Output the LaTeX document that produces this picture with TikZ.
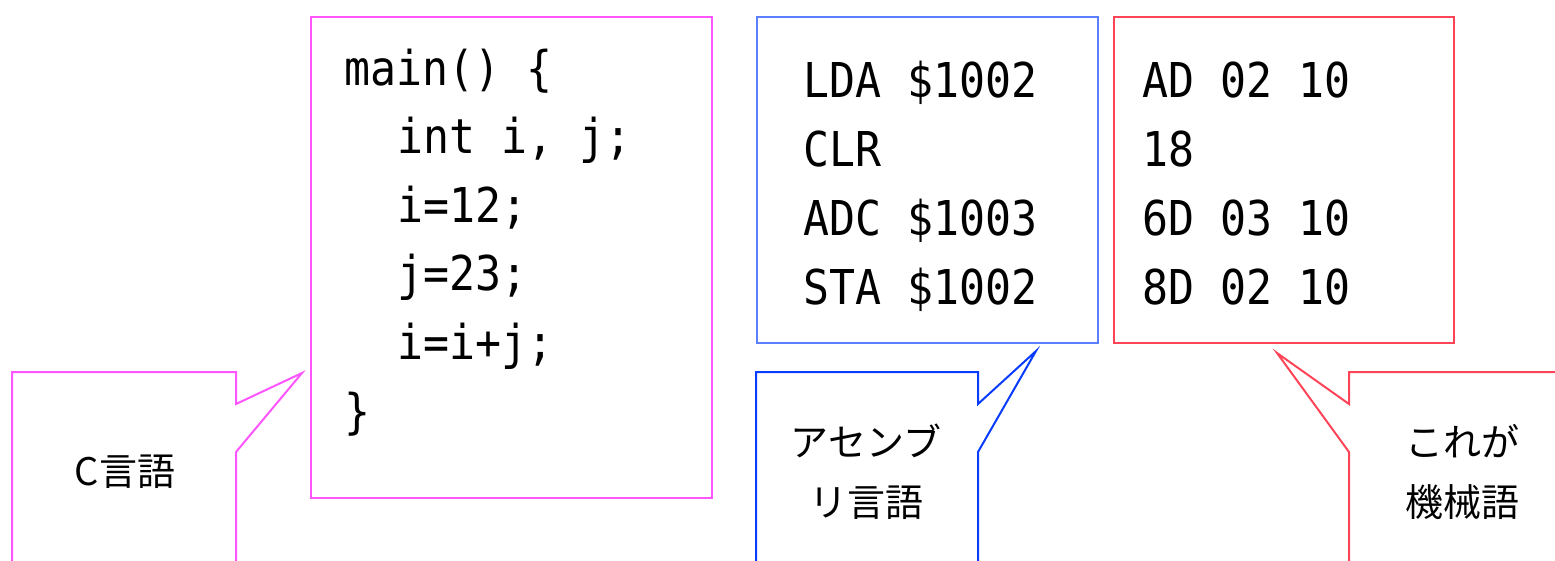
\documentclass[tikz,border=0pt]{standalone}
\usepackage{fontspec}
\newfontfamily\codefont[FakeStretch=0.9]{DejaVu Sans Mono}
\newfontfamily\jpfont{Noto Sans CJK JP}
\definecolor{cmag}{HTML}{FF55FF}
\definecolor{cblueL}{HTML}{5B80FF}
\definecolor{cblueD}{HTML}{0A3CFF}
\definecolor{cred}{HTML}{FF4458}
\tikzset{
  box/.style={draw, line width=2pt, anchor=north west, inner sep=0pt},
  code/.style={anchor=base west, inner sep=0pt, font=\codefont\fontsize{48}{58}\selectfont},
  lbl/.style={anchor=base, inner sep=0pt, font=\jpfont\fontsize{38}{46}\selectfont},
  callout/.style={line width=2pt, line join=miter}
}
\begin{document}
\begin{tikzpicture}[x=1pt,y=-1pt]
\useasboundingbox (0,0) rectangle (1555,560);
\clip (0,0) rectangle (1555,560);
% boxes
\node[box, draw=cmag, minimum width=401pt, minimum height=481pt] (cbox) at (310,16) {};
\node[box, draw=cblueL, minimum width=341pt, minimum height=326pt] (abox) at (756,16) {};
\node[box, draw=cred, minimum width=340pt, minimum height=326pt] (mbox) at (1113,16) {};
% C code
\node[code] (c1) at (344,85) {main() \{};
\node[code] (c2) at (397,153) {int i, j;};
\node[code] (c3) at (397,222) {i=12;};
\node[code] (c4) at (397,290) {j=23;};
\node[code] (c5) at (397,359) {i=i+j;};
\node[code] (c6) at (344,428) {\}};
% assembly
\node[code] (a1) at (803,97) {LDA \$1002};
\node[code] (a2) at (803,166) {CLR};
\node[code] (a3) at (803,235) {ADC \$1003};
\node[code] (a4) at (803,304) {STA \$1002};
% machine code
\node[code] (m1) at (1142,97) {AD 02 10};
\node[code] (m2) at (1142,166) {18};
\node[code] (m3) at (1142,235) {6D 03 10};
\node[code] (m4) at (1142,304) {8D 02 10};
% callout tips
\coordinate (tipC) at (302,373);
\coordinate (tipA) at (1036,351);
\coordinate (tipM) at (1277,353);
% callouts
\draw[callout, cmag] (12,562) -- (12,372) -- (236,372) -- (236,404) -- (tipC) -- (236,452) -- (236,562);
\draw[callout, cblueD] (756,562) -- (756,372) -- (978,372) -- (978,404) -- (tipA) -- (978,452) -- (978,562);
\draw[callout, cred] (1557,372) -- (1349,372) -- (1349,404) -- (tipM) -- (1349,452) -- (1349,562);
% labels
\node[lbl] (lc) at (125,485) {C言語};
\node[lbl] (la1) at (866,456) {アセンブ};
\node[lbl] (la2) at (866,516) {リ言語};
\node[lbl] (lm1) at (1462,456) {これが};
\node[lbl] (lm2) at (1462,516) {機械語};
\end{tikzpicture}
\end{document}
